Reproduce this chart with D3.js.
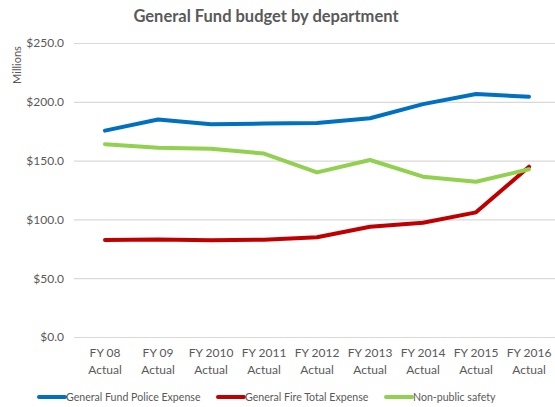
<!DOCTYPE html>
<html><head><meta charset="utf-8">
<script src="https://cdn.jsdelivr.net/npm/d3@7"></script>
<style>body{margin:0;background:#fff}svg{display:block}</style>
</head><body>
<script>
const categories = ["FY 08|Actual","FY 09|Actual","FY 2010|Actual","FY 2011|Actual","FY 2012|Actual","FY 2013|Actual","FY 2014|Actual","FY 2015|Actual","FY 2016|Actual"];
const police = [175.5,185,181,181.5,182,186,198,206.6,204.3];
const fire = [82.5,83,82.2,82.7,84.8,93.8,97.2,106,144.8];
const nonPublic = [164,161,160,156,140,150.5,136.3,132,142.6];
const yTicks = [0,50,100,150,200,250];
const seriesNames = ["General Fund Police Expense","General Fire Total Expense","Non-public safety"];
const colors = ["#0070C0","#C00000","#92D050"];

const W=555,H=407;
const svg=d3.select("body").append("svg").attr("width",W).attr("height",H);
const font="Lato, 'Open Sans', sans-serif";
const x=d3.scaleBand().domain(categories).range([78.5,555.5]);
const y=d3.scaleLinear().domain([0,250]).range([337,43]);

svg.append("text").attr("x",266).attr("y",22).attr("text-anchor","middle")
  .attr("font-family",font).attr("font-weight","bold").attr("font-size",16.5).attr("fill","#595959")
  .text("General Fund budget by department");

svg.append("text").attr("transform","translate(21,65) rotate(-90)").attr("text-anchor","middle")
  .attr("font-family",font).attr("font-size",11).attr("fill","#595959").text("Millions");

const ya=svg.append("g").attr("transform","translate(74,0)")
  .call(d3.axisLeft(y).tickValues(yTicks).tickSize(-(W-74)).tickFormat(d=>"$"+d3.format(".1f")(d)).tickPadding(10));
ya.select(".domain").remove();
ya.selectAll("line").attr("stroke","#D9D9D9").attr("stroke-width",1.2);
ya.selectAll("text").attr("font-family",font).attr("font-size",12).attr("fill","#595959");

const xa=svg.append("g").attr("transform","translate(0,337)")
  .call(d3.axisBottom(x).tickSize(0).tickPadding(0));
xa.select(".domain").remove();
xa.selectAll("text").each(function(d){
  const t=d3.select(this).text(null).attr("font-family",font).attr("font-size",12).attr("fill","#595959").attr("y",0);
  const parts=d.split("|");
  t.append("tspan").attr("x",0).attr("dy",20).text(parts[0]);
  t.append("tspan").attr("x",0).attr("dy",17).text(parts[1]);
});

const line=d3.line().x((d,i)=>x(categories[i])+x.bandwidth()/2).y(d=>y(d));
[police,fire,nonPublic].forEach((s,k)=>{
  svg.append("path").datum(s).attr("d",line).attr("fill","none").attr("stroke",colors[k])
    .attr("stroke-width",4).attr("stroke-linejoin","round").attr("stroke-linecap","round");
});

const lx=[39,218,386];
seriesNames.forEach((n,k)=>{
  svg.append("line").attr("x1",lx[k]).attr("x2",lx[k]+26).attr("y1",397).attr("y2",397)
    .attr("stroke",colors[k]).attr("stroke-width",4).attr("stroke-linecap","round");
  svg.append("text").attr("x",lx[k]+27).attr("y",401).attr("font-family",font).attr("font-size",10.6)
    .attr("fill","#595959").text(n);
});
</script>
</body></html>
